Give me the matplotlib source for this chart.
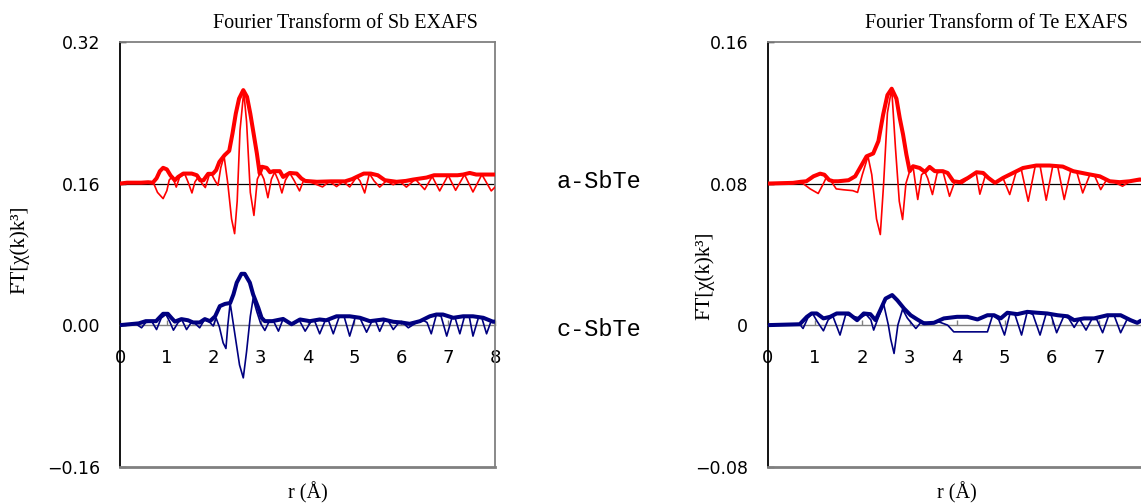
import matplotlib
matplotlib.use('Agg')
import matplotlib.pyplot as plt

# ---- Sb EXAFS, a-SbTe (drawn on a +0.16 baseline) ----
sb_a_mag_r = [0.00, 0.15, 0.30, 0.45, 0.60, 0.70, 0.78, 0.85, 0.92, 1.00, 1.08, 1.17, 1.24, 1.35, 1.53,
              1.64, 1.71, 1.78, 1.88, 1.98, 2.05, 2.12, 2.23, 2.33, 2.40, 2.47, 2.54, 2.63, 2.71, 2.78,
              2.85, 2.92, 2.98, 3.03, 3.13, 3.20, 3.27, 3.41, 3.48, 3.62, 3.77, 3.87, 3.95, 4.20, 4.50,
              4.80, 4.95, 5.05, 5.20, 5.35, 5.50, 5.65, 5.90, 6.10, 6.25, 6.54, 6.70, 7.20, 7.32, 7.46,
              7.60, 8.00]
sb_a_mag = [0.000, 0.001, 0.001, 0.001, 0.0015, 0.001, 0.006, 0.014, 0.0178, 0.016, 0.009, 0.0037, 0.0075,
            0.0113, 0.0113, 0.0094, 0.0037, 0.0037, 0.011, 0.011, 0.0151, 0.0245, 0.032, 0.037, 0.0566,
            0.079, 0.096, 0.1056, 0.098, 0.079, 0.0566, 0.034, 0.0113, 0.019, 0.0177, 0.0128, 0.014,
            0.014, 0.0075, 0.012, 0.0113, 0.0057, 0.003, 0.002, 0.0025, 0.0025, 0.005, 0.0076, 0.0113,
            0.0113, 0.0094, 0.0038, 0.002, 0.003, 0.0045, 0.0068, 0.0094, 0.0094, 0.0102, 0.012, 0.0102,
            0.0102]
sb_a_re_r = [0.00, 0.60, 0.72, 0.80, 0.92, 1.00, 1.05, 1.12, 1.20, 1.27, 1.38, 1.45, 1.535, 1.60, 1.68,
             1.75, 1.82, 1.90, 1.96, 2.03, 2.09, 2.15, 2.22, 2.30, 2.38, 2.445, 2.50, 2.56, 2.64, 2.70,
             2.78, 2.857, 2.93, 3.00, 3.07, 3.155, 3.23, 3.30, 3.38, 3.454, 3.53, 3.62, 3.72, 3.83, 3.92,
             4.05, 4.32, 4.47, 4.62, 4.76, 4.90, 5.05, 5.12, 5.22, 5.32, 5.42, 5.54, 5.68, 5.83, 5.97,
             6.11, 6.30, 6.50, 6.66, 6.82, 7.00, 7.16, 7.35, 7.53, 7.72, 7.92, 8.00]
sb_a_re = [0.000, 0.0015, 0.0, -0.010, -0.017, -0.008, 0.004, 0.008, -0.004, 0.007, 0.011, 0.002, -0.0106,
           0.002, 0.008, 0.0, -0.0045, 0.009, 0.010, 0.003, -0.002, 0.018, 0.031, 0.0, -0.040, -0.0566,
           -0.020, 0.060, 0.104, 0.070, -0.010, -0.036, 0.005, 0.013, 0.005, -0.016, 0.005, 0.013, 0.003,
           -0.0106, 0.004, 0.012, 0.003, -0.0083, 0.004, 0.002, -0.0038, 0.0025, -0.0034, 0.0025, -0.0038,
           0.0076, 0.003, -0.0106, 0.0113, 0.003, -0.004, 0.003, -0.0013, 0.0025, -0.004, 0.005, -0.0068,
           0.008, -0.0083, 0.0094, -0.0076, 0.0102, -0.0095, 0.0102, -0.0083, -0.004]

# ---- Sb EXAFS, c-SbTe ----
sb_c_mag_r = [0.00, 0.20, 0.40, 0.55, 0.77, 0.85, 0.92, 1.02, 1.10, 1.17, 1.31, 1.45, 1.56, 1.70, 1.81,
              1.92, 2.03, 2.13, 2.24, 2.35, 2.42, 2.49, 2.59, 2.66, 2.77, 2.84, 2.95, 3.02, 3.09, 3.25,
              3.48, 3.66, 3.84, 4.05, 4.26, 4.40, 4.62, 4.90, 5.12, 5.33, 5.62, 5.83, 6.00, 6.18, 6.40,
              6.61, 6.75, 6.89, 7.11, 7.32, 7.53, 7.75, 7.96, 8.00]
sb_c_mag = [0.000, 0.001, 0.002, 0.0045, 0.0045, 0.009, 0.0128, 0.0128, 0.008, 0.004, 0.0068, 0.0055,
            0.003, 0.003, 0.0068, 0.0045, 0.010, 0.0215, 0.024, 0.025, 0.0347, 0.048, 0.058, 0.058, 0.048,
            0.0347, 0.0196, 0.0083, 0.0045, 0.0045, 0.007, 0.001, 0.0064, 0.0045, 0.0064, 0.0055, 0.010,
            0.010, 0.0083, 0.0045, 0.0064, 0.0038, 0.003, 0.0015, 0.0045, 0.010, 0.012, 0.012, 0.0083,
            0.010, 0.010, 0.0083, 0.0038, 0.004]
sb_c_re_r = [0.00, 0.35, 0.46, 0.55, 0.68, 0.78, 0.88, 0.98, 1.06, 1.14, 1.24, 1.32, 1.42, 1.52, 1.60,
             1.70, 1.80, 1.90, 1.99, 2.05, 2.12, 2.20, 2.26, 2.30, 2.35, 2.45, 2.55, 2.63, 2.70, 2.78,
             2.84, 2.92, 3.00, 3.09, 3.18, 3.28, 3.38, 3.48, 3.60, 3.70, 3.82, 3.95, 4.08, 4.15, 4.26,
             4.38, 4.45, 4.55, 4.68, 4.78, 4.90, 5.02, 5.12, 5.26, 5.38, 5.45, 5.54, 5.65, 5.72, 5.83,
             5.95, 6.05, 6.15, 6.30, 6.45, 6.55, 6.64, 6.75, 6.85, 6.97, 7.08, 7.15, 7.25, 7.35, 7.45,
             7.53, 7.65, 7.72, 7.82, 7.92, 8.00]
sb_c_re = [0.000, 0.001, -0.003, 0.003, 0.004, -0.005, 0.008, 0.012, 0.004, -0.0057, 0.003, 0.006, -0.005,
           0.003, 0.002, -0.003, 0.006, 0.004, -0.001, 0.008, -0.002, -0.020, -0.0264, 0.0, 0.025, -0.010,
           -0.045, -0.0596, -0.030, 0.010, 0.030, 0.015, 0.002, -0.006, 0.004, 0.004, -0.0068, 0.007,
           0.003, 0.001, 0.006, -0.0068, 0.0045, 0.005, -0.0098, 0.0055, 0.005, -0.0098, 0.010, 0.010,
           -0.0124, 0.009, 0.008, -0.008, 0.005, 0.005, -0.007, 0.006, 0.005, -0.005, 0.003, 0.002, -0.003,
           0.002, 0.006, 0.003, -0.0098, 0.012, 0.010, -0.0124, 0.008, 0.008, -0.0098, 0.010, 0.010,
           -0.0124, 0.009, 0.008, -0.0098, 0.005, 0.004]

# ---- Te EXAFS, a-SbTe (drawn on a +0.08 baseline) ----
te_a_mag_r = [0.00, 0.54, 0.70, 0.82, 0.97, 1.11, 1.20, 1.30, 1.39, 1.49, 1.71, 1.85, 1.95, 2.09, 2.23,
              2.34, 2.44, 2.53, 2.62, 2.72, 2.79, 2.86, 2.93, 3.00, 3.07, 3.21, 3.32, 3.42, 3.53, 3.70,
              3.80, 3.92, 4.06, 4.23, 4.41, 4.55, 4.66, 4.80, 4.97, 5.18, 5.39, 5.67, 5.95, 6.23, 6.45,
              6.73, 7.01, 7.22, 7.43, 7.64, 7.85, 8.00]
te_a_mag = [0.000, 0.0004, 0.001, 0.0013, 0.0041, 0.0056, 0.005, 0.002, 0.0013, 0.0013, 0.0019, 0.0041,
            0.0088, 0.0154, 0.017, 0.024, 0.039, 0.050, 0.0536, 0.048, 0.037, 0.0277, 0.0164, 0.007,
            0.0098, 0.0088, 0.0066, 0.0094, 0.007, 0.007, 0.006, 0.0013, 0.0008, 0.0032, 0.0064, 0.006,
            0.0032, 0.0004, 0.0032, 0.006, 0.0088, 0.0102, 0.0102, 0.0096, 0.007, 0.0055, 0.0041, 0.0013,
            0.0008, 0.0013, 0.0023, 0.002]
te_a_re_r = [0.00, 0.54, 0.75, 0.90, 1.07, 1.18, 1.25, 1.35, 1.45, 1.60, 1.80, 1.90, 2.00, 2.12, 2.20,
             2.30, 2.38, 2.45, 2.53, 2.62, 2.70, 2.78, 2.85, 2.92, 3.00, 3.07, 3.12, 3.17, 3.25, 3.32,
             3.38, 3.48, 3.58, 3.70, 3.84, 3.95, 4.10, 4.25, 4.40, 4.48, 4.60, 4.80, 4.97, 5.11, 5.25,
             5.35, 5.50, 5.65, 5.75, 5.88, 6.02, 6.12, 6.26, 6.40, 6.52, 6.65, 6.80, 6.90, 7.03, 7.15,
             7.30, 7.49, 7.65, 8.00]
te_a_re = [0.000, 0.0004, 0.0, -0.003, -0.0056, 0.0, 0.004, 0.001, -0.003, -0.0035, -0.004, -0.005, 0.005,
           0.0154, 0.005, -0.020, -0.0288, 0.000, 0.040, 0.0536, 0.020, -0.010, -0.0203, 0.000, 0.007,
           0.0098, 0.000, -0.009, 0.005, 0.0066, 0.003, -0.0062, 0.006, 0.007, -0.0072, 0.001, 0.0, 0.003,
           0.0064, -0.006, 0.005, 0.0004, 0.003, -0.0062, 0.007, 0.0085, -0.010, 0.0102, 0.0102, -0.0094,
           0.0102, 0.0100, -0.009, 0.0075, 0.007, -0.0053, 0.005, 0.0045, -0.0034, 0.002, 0.001, -0.0015,
           0.0013, 0.002]

# ---- Te EXAFS, c-SbTe ----
te_c_mag_r = [0.00, 0.68, 0.83, 0.93, 1.04, 1.18, 1.32, 1.46, 1.71, 1.89, 2.03, 2.17, 2.28, 2.38, 2.49,
              2.63, 2.74, 2.88, 3.02, 3.16, 3.30, 3.51, 3.72, 4.00, 4.22, 4.43, 4.64, 4.78, 4.92, 5.06,
              5.27, 5.48, 5.69, 5.90, 6.12, 6.33, 6.47, 6.68, 6.89, 7.17, 7.45, 7.66, 7.80, 7.87, 8.00]
te_c_mag = [0.000, 0.0005, 0.0047, 0.0066, 0.0066, 0.0038, 0.0047, 0.0066, 0.0066, 0.0028, 0.0066, 0.0062,
            0.0028, 0.0085, 0.015, 0.017, 0.014, 0.0094, 0.0056, 0.0032, 0.001, 0.0013, 0.0038, 0.0047,
            0.0047, 0.0032, 0.0056, 0.0056, 0.0038, 0.007, 0.0062, 0.0075, 0.007, 0.0066, 0.0056, 0.005,
            0.0028, 0.0038, 0.0038, 0.0056, 0.0056, 0.0028, 0.0013, 0.0024, 0.003]
te_c_re_r = [0.00, 0.68, 0.75, 0.85, 0.95, 1.05, 1.18, 1.28, 1.38, 1.53, 1.65, 1.80, 1.95, 2.08, 2.18,
             2.24, 2.32, 2.45, 2.55, 2.60, 2.67, 2.75, 2.85, 2.95, 3.13, 3.25, 3.40, 3.60, 3.80, 3.93,
             4.30, 4.64, 4.75, 4.88, 5.00, 5.12, 5.22, 5.36, 5.48, 5.60, 5.75, 5.88, 5.98, 6.10, 6.25,
             6.35, 6.47, 6.58, 6.72, 6.85, 6.95, 7.07, 7.20, 7.32, 7.45, 7.60, 7.80, 8.00]
te_c_re = [0.000, 0.0005, -0.0019, 0.004, 0.0066, 0.002, -0.0032, 0.003, 0.005, -0.0056, 0.006, 0.005,
           0.004, 0.006, 0.003, -0.0028, 0.003, 0.012, 0.0, -0.008, -0.016, 0.000, 0.009, 0.004, -0.0019,
           0.002, 0.001, 0.002, 0.000, -0.0038, -0.0038, -0.0038, 0.0056, 0.003, -0.0056, 0.007, 0.006,
           -0.0056, 0.0075, 0.006, -0.0056, 0.0066, 0.006, -0.0043, 0.005, 0.004, -0.0013, 0.0035, -0.0028,
           0.0038, 0.003, -0.0043, 0.0056, 0.005, -0.0043, 0.004, 0.0013, 0.003]

sb_offset = 0.16
te_offset = 0.08
sb_yticks = [-0.16, 0.0, 0.16, 0.32]
sb_yticklabels = ['\u22120.16', '0.00', '0.16', '0.32']
te_yticks = [-0.08, 0.0, 0.08, 0.16]
te_yticklabels = ['\u22120.08', '0', '0.08', '0.16']
x_ticks = [0, 1, 2, 3, 4, 5, 6, 7, 8]

RED = '#ff0000'
NAVY = '#000080'
GREY = '#808080'
SERIF = 'Liberation Serif'

W, H = 1141, 504
fig = plt.figure(figsize=(W / 100, H / 100), dpi=100)
bot = (H - 466.7) / H
hgt = 424.7 / H
ax1 = fig.add_axes([120 / W, bot, 375 / W, hgt])
ax2 = fig.add_axes([767.5 / W, bot, 379.2 / W, hgt])


def draw_panel(ax, offset, a_mag_r, a_mag, a_re_r, a_re, c_mag_r, c_mag, c_re_r, c_re,
               yticks, yticklabels, title, title_x):
    ax.axhline(offset, color='black', lw=0.9, zorder=1)
    ax.plot(a_mag_r, [v + offset for v in a_mag], color=RED, lw=2.9, solid_joinstyle='round', zorder=3)
    ax.plot(a_re_r, [v + offset for v in a_re], color=RED, lw=1.2, zorder=4)
    ax.plot(c_mag_r, c_mag, color=NAVY, lw=2.9, solid_joinstyle='round', zorder=3)
    ax.plot(c_re_r, c_re, color=NAVY, lw=1.2, zorder=4)

    ax.set_xlim(0, 8)
    ax.set_ylim(yticks[0], yticks[-1])

    # x axis sits on the zero line, frame drawn in grey
    ax.spines['bottom'].set_position(('data', 0))
    ax.spines['bottom'].set_color(GREY)
    ax.spines['bottom'].set_linewidth(1.0)
    for s in ('top', 'right'):
        ax.spines[s].set_color(GREY)
        ax.spines[s].set_linewidth(1.3)
    ax.spines['left'].set_color('black')
    ax.spines['left'].set_linewidth(1.3)
    ax.axhline(yticks[0], color=GREY, lw=2.0, clip_on=False, zorder=5)

    ax.set_xticks(x_ticks)
    ax.set_xticklabels([str(t) for t in x_ticks])
    ax.set_yticks(yticks)
    ax.set_yticklabels(yticklabels)
    ax.tick_params(axis='x', direction='in', length=3.5, width=1, color=GREY,
                   pad=17, labelsize=13)
    ax.tick_params(axis='y', direction='in', length=4.5, width=1, color='black',
                   pad=14, labelsize=12.5)

    ax.text(0.5, -0.062, 'r (\u00c5)', transform=ax.transAxes, ha='center', va='center',
            family=SERIF, fontsize=14.5)
    fig.text(title_x / W, 1 - 23 / H, title, ha='center', va='center', family=SERIF, fontsize=14.5)


draw_panel(ax1, sb_offset, sb_a_mag_r, sb_a_mag, sb_a_re_r, sb_a_re,
           sb_c_mag_r, sb_c_mag, sb_c_re_r, sb_c_re,
           sb_yticks, sb_yticklabels, 'Fourier Transform of Sb EXAFS', 345.5)
draw_panel(ax2, te_offset, te_a_mag_r, te_a_mag, te_a_re_r, te_a_re,
           te_c_mag_r, te_c_mag, te_c_re_r, te_c_re,
           te_yticks, te_yticklabels, 'Fourier Transform of Te EXAFS', 996)

# y labels
fig.text(20 / W, 1 - 250 / H, 'FT[\u03c7(k)k\u00b3]', rotation=90, ha='center', va='center',
         family=SERIF, fontsize=15)
fig.text(705 / W, 1 - 276 / H, 'FT[\u03c7(k)k\u00b3]', rotation=90, ha='center', va='center',
         family=SERIF, fontsize=15)

# sample labels between the panels
fig.text(599 / W, 1 - 181 / H, 'a-SbTe', ha='center', va='center', family='Liberation Mono', fontsize=17)
fig.text(599 / W, 1 - 330 / H, 'c-SbTe', ha='center', va='center', family='Liberation Mono', fontsize=17)

fig.savefig('out.png', dpi=100)
